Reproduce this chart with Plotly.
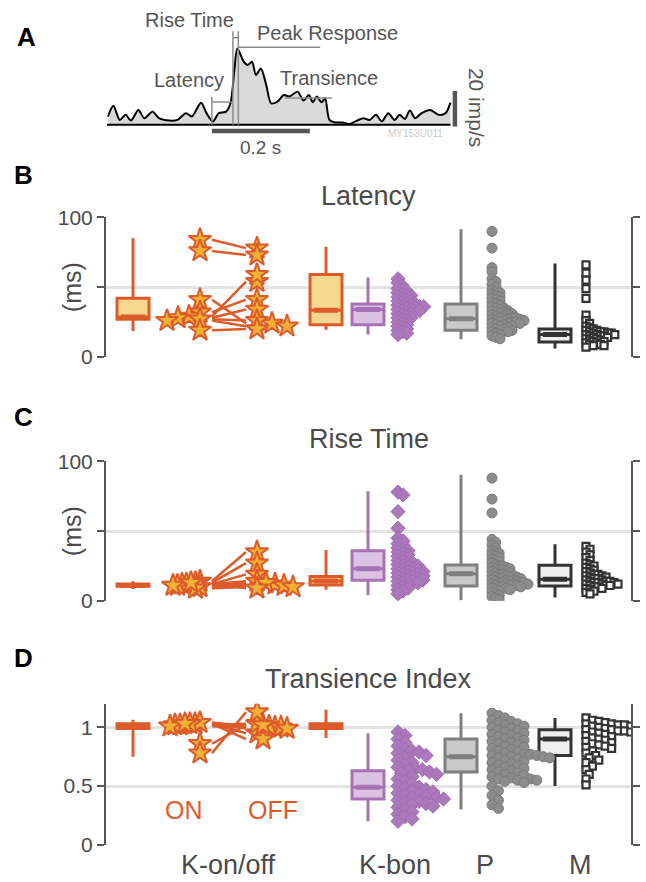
import plotly.graph_objects as go

W, H = 646, 882
# measured screen placement: screen_y = Y_OFF + Y_SCALE * figure_y (screen_x = figure_x)
Y_OFF, Y_SCALE = 8.7, 0.978
FONT = "Liberation Sans, Arial, Helvetica, sans-serif"
TXT = "#4a4a4a"

def px(x):
    return x / W

def py(y):
    return 1 - ((y - Y_OFF) / Y_SCALE) / H

# ---------------- Panel A: example PSTH ----------------
psth_t_ms = [-212, -201, -188, -176, -165, -150, -138, -121, -108, -87, -70, -53, -41, -22, -11, 2,
             14, 29, 38, 46, 52, 65, 73, 82, 90, 100, 111, 121, 134, 147, 158, 175, 187, 198, 206,
             214, 224, 231, 240, 252, 267, 280, 293, 309, 322, 335, 347, 360, 373, 383, 394, 404,
             415, 428, 446, 463, 477, 487]
psth_rate = [4.9, 11.2, 2.9, 5.9, 2.5, 8.8, 3.9, 7.8, 3.9, 2.5, 2.9, 6.9, 4.9, 13.1, 6.9, 2.0,
             6.9, 7.8, 12.7, 32.4, 45.1, 37.3, 35.3, 37.3, 29.4, 33.3, 23.5, 12.7, 13.7, 17.6, 16.7,
             19.6, 14.3, 17.6, 13.3, 16.7, 13.3, 15.7, 2.9, 1.4, 1.4, 0.4, 2.0, 3.9, 2.9, 5.9, 2.0,
             6.9, 2.9, 5.9, 3.5, 8.4, 3.9, 6.9, 8.8, 5.9, 6.9, 13.1]
latency_ms = 43
rise_end_ms = 54
peak_rate = 45.9
sustained_rate = 15.9
stim_ms = 200
scale_rate = 20

# ---------------- Box statistics (groups: K-on, K-off, K-bon, P, M) ----------------
lat_lower = [18.5, 19.5, 16, 12.6, 6]
lat_q1 = [27, 23, 23, 19, 10.7]
lat_med = [28.5, 33.5, 34, 27.4, 16]
lat_q3 = [42, 59, 38, 38, 20]
lat_upper = [85, 79, 57, 91.6, 67]

rise_lower = [8.5, 7.9, 4, 0.5, 2.4]
rise_q1 = [10.5, 11.4, 14.8, 10.7, 10.7]
rise_med = [11, 14.3, 23, 19.5, 15.5]
rise_q3 = [12, 17.4, 36, 25.7, 25.5]
rise_upper = [14, 36.4, 78.6, 90.5, 40.5]

trans_lower = [0.75, 0.91, 0.2, 0.3, 0.5]
trans_q1 = [0.99, 0.99, 0.39, 0.62, 0.76]
trans_med = [1.01, 1.01, 0.49, 0.75, 0.9]
trans_q3 = [1.03, 1.03, 0.63, 0.9, 0.98]
trans_upper = [1.065, 1.15, 0.95, 1.12, 1.08]

# ---------------- Paired K-on/off cells ----------------
lat_on = [84, 76, 41, 32, 29, 28, 27, 26, 19]
lat_off = [78, 73, 24, 41, 54, 34, 26, 22, 20]
lat_off_extra = [59]
rise_on = [14, 13, 12, 12, 11, 11, 10, 9, 13]
rise_off = [35, 27, 19, 14, 12, 13, 11, 10, 9]
trans_on = [1.03, 1.02, 1.04, 1.03, 1.02, 1.01, 0.86, 0.78, 1.03]
trans_off = [0.95, 1.0, 1.01, 0.9, 1.03, 1.0, 1.02, 1.13, 0.99]

# ---------------- Population values ----------------
lat_kbon = [56, 53, 51, 49, 48, 47, 46, 45, 44, 44, 43, 42, 41, 40, 40, 39, 38, 38, 37, 37, 36, 36,
            36, 35, 35, 34, 34, 33, 33, 32, 31, 31, 30, 29, 28, 28, 27, 26, 25, 24, 23, 22, 21, 20,
            19, 18, 17, 16]
lat_p = [90, 78, 64, 61, 56, 54, 52, 50, 48, 47, 46, 45, 44, 43, 42, 41, 40, 39, 38, 37, 36, 35, 35,
         34, 33, 33, 32, 32, 31, 31, 30, 30, 29, 29, 28, 28, 28, 27, 27, 27, 26, 26, 26, 25, 25, 25,
         24, 24, 24, 23, 23, 22, 22, 21, 21, 20, 20, 19, 19, 18, 18, 17, 16, 15, 14, 13]
lat_m = [66, 60, 55, 49, 42, 30, 26, 24, 22, 21, 20, 19, 19, 18, 18, 18, 17, 17, 17, 16, 16, 16, 15,
         15, 15, 14, 14, 13, 13, 12, 12, 11, 11, 10, 10, 9, 9, 8, 8, 7]

rise_kbon = [78, 76, 64, 52, 45, 43, 41, 40, 38, 37, 36, 35, 34, 33, 32, 31, 30, 29, 28, 27, 27, 26,
             25, 25, 24, 23, 23, 22, 22, 21, 21, 20, 20, 19, 19, 18, 18, 17, 17, 16, 16, 15, 15, 14,
             14, 13, 13, 12, 11, 10, 9, 8, 7, 5]
rise_p = [88, 73, 63, 44, 42, 40, 38, 36, 35, 34, 33, 32, 31, 30, 29, 28, 27, 26, 25, 25, 24, 24, 23,
          23, 22, 22, 21, 21, 20, 20, 19, 19, 18, 18, 18, 17, 17, 17, 16, 16, 16, 15, 15, 15, 14, 14,
          14, 13, 13, 13, 13, 12, 12, 12, 12, 11, 11, 11, 10, 10, 10, 9, 9, 8, 8, 7, 6, 5, 4, 3, 2, 1]
rise_m = [39, 37, 35, 33, 31, 29, 27, 26, 25, 24, 23, 22, 21, 20, 19, 19, 18, 18, 17, 17, 16, 16, 15,
          15, 14, 14, 14, 13, 13, 13, 12, 12, 12, 11, 11, 11, 10, 10, 9, 9, 8, 7, 6, 5]

trans_kbon = [0.96, 0.93, 0.9, 0.87, 0.84, 0.81, 0.8, 0.79, 0.78, 0.76, 0.74, 0.72, 0.7, 0.68, 0.66,
              0.65, 0.64, 0.63, 0.62, 0.61, 0.6, 0.58, 0.56, 0.54, 0.52, 0.5, 0.49, 0.48, 0.47, 0.46,
              0.45, 0.44, 0.43, 0.42, 0.41, 0.4, 0.4, 0.39, 0.38, 0.37, 0.36, 0.35, 0.34, 0.33, 0.32,
              0.3, 0.28, 0.26, 0.24, 0.22, 0.2]
trans_p = [1.12, 1.1, 1.08, 1.06, 1.05, 1.04, 1.03, 1.02, 1.01, 1.0, 0.99, 0.98, 0.97, 0.96, 0.95,
           0.94, 0.93, 0.92, 0.91, 0.9, 0.89, 0.88, 0.87, 0.86, 0.85, 0.84, 0.83, 0.82, 0.81, 0.8,
           0.79, 0.78, 0.77, 0.77, 0.76, 0.76, 0.75, 0.75, 0.74, 0.74, 0.73, 0.72, 0.71, 0.7, 0.69,
           0.68, 0.67, 0.66, 0.65, 0.64, 0.63, 0.62, 0.61, 0.6, 0.59, 0.58, 0.57, 0.56, 0.56, 0.55,
           0.55, 0.54, 0.53, 0.5, 0.46, 0.42, 0.38, 0.34, 0.31]
trans_m = [1.08, 1.06, 1.05, 1.04, 1.03, 1.03, 1.02, 1.02, 1.01, 1.01, 1.0, 1.0, 0.99, 0.99, 0.98,
           0.98, 0.97, 0.97, 0.96, 0.96, 0.95, 0.95, 0.94, 0.93, 0.92, 0.91, 0.9, 0.89, 0.88, 0.87,
           0.86, 0.85, 0.84, 0.83, 0.82, 0.8, 0.78, 0.76, 0.74, 0.72, 0.7, 0.67, 0.64, 0.6, 0.56, 0.51]

group_labels = ["K-on/off", "K-bon", "P", "M"]
panel_titles = ["Latency", "Rise Time", "Transience Index"]

# ---------------- styling / layout constants ----------------
ORANGE, ORANGE_FILL, STAR_FILL = "#dd5a2b", "#f6d78f", "#f2b134"
PURPLE, PURPLE_FILL = "#a672b5", "#dcc2e2"
GRAY, GRAY_FILL = "#7f7f7f", "#c9c9c9"
DARK, DARK_FILL = "#333333", "#efefef"
box_line = [ORANGE, ORANGE, PURPLE, GRAY, DARK]
box_fill = [ORANGE_FILL, ORANGE_FILL, PURPLE_FILL, GRAY_FILL, DARK_FILL]
box_x = [133, 326, 368, 461, 555]
BOX_W = 32

X0, X1 = 106, 631
# swarm (collision, step) per group: K-bon, P, M ; star swarms: (coll_on, step_on, coll_off, step_off)
panels = [
    dict(top=215, bot=355, rng=[0, 100], ticks=[0, 50, 100], tt=["0", "", "100"],
         sw=((4.0, 4.3), (4.0, 4.0), (3.6, 3.6)), star=(6.0, 11, 6.0, 15)),
    dict(top=460, bot=600, rng=[0, 100], ticks=[0, 50, 100], tt=["0", "", "100"],
         sw=((4.0, 5.0), (3.6, 3.6), (4.0, 4.0)), star=(4.5, 4.5, 6.0, 9)),
    dict(top=703.4, bot=845, rng=[0, 1.2], ticks=[0, 0.5, 1], tt=["0", "0.5", "1"],
         sw=((6.2, 3.5), (6.0, 3.2), (5.0, 3.2)), star=(5.0, 5.0, 6.0, 6)),
]
for i, p in enumerate(panels):
    sfx = "" if i == 0 else str(i + 1)
    p["xa"], p["ya"], p["sfx"] = "x" + sfx, "y" + sfx, sfx
    p["scale"] = (p["bot"] - p["top"]) / (p["rng"][1] - p["rng"][0])


def swarm(vals, base, direction, scale, coll, step):
    placed = []
    order = sorted(range(len(vals)), key=lambda i: -vals[i])
    out = [0] * len(vals)
    for i in order:
        yv = vals[i] * scale
        k = 0
        while any((k * step - a) ** 2 + (yv - b) ** 2 < coll ** 2 - 1e-9 for a, b in placed):
            k += 1
        placed.append((k * step, yv))
        out[i] = base + direction * k * step
    return out


fig = go.Figure()

# ---- Panel A ----
AX, AY = "x4", "y4"
fig.add_trace(go.Scatter(x=psth_t_ms, y=psth_rate, mode="lines",
                         line=dict(color="black", width=2, shape="spline", smoothing=0.8),
                         fill="tozeroy", fillcolor="#d9d9d9", xaxis=AX, yaxis=AY, hoverinfo="skip"))
fig.add_trace(go.Scatter(x=[psth_t_ms[0] - 2, psth_t_ms[-1]], y=[0, 0], mode="lines",
                         line=dict(color="black", width=2), xaxis=AX, yaxis=AY, hoverinfo="skip"))
ann_line = dict(color="#8c8c8c", width=1.5)
seg_x = [0, 0, None, 0, latency_ms, None, latency_ms, latency_ms, None, rise_end_ms, rise_end_ms, None,
         latency_ms, rise_end_ms, None, rise_end_ms, 221, None, 149, 245]
seg_y = [0, 16.5, None, 13.5, 13.5, None, 0, 55.3, None, 0, 55.3, None,
         51.5, 51.5, None, peak_rate, peak_rate, None, sustained_rate, sustained_rate]
fig.add_trace(go.Scatter(x=seg_x, y=seg_y, mode="lines", line=ann_line, xaxis=AX, yaxis=AY, hoverinfo="skip"))
fig.add_trace(go.Scatter(x=[0, stim_ms], y=[-3.6, -3.6], mode="lines", line=dict(color="#555555", width=4.5),
                         xaxis=AX, yaxis=AY, hoverinfo="skip"))
fig.add_trace(go.Scatter(x=[496, 496], y=[-1, scale_rate], mode="lines", line=dict(color="#555555", width=4.5),
                         xaxis=AX, yaxis=AY, hoverinfo="skip"))

# ---- Panels B-D ----
stats = [
    (lat_lower, lat_q1, lat_med, lat_q3, lat_upper),
    (rise_lower, rise_q1, rise_med, rise_q3, rise_upper),
    (trans_lower, trans_q1, trans_med, trans_q3, trans_upper),
]
pops = [(lat_kbon, lat_p, lat_m), (rise_kbon, rise_p, rise_m), (trans_kbon, trans_p, trans_m)]
pairs = [(lat_on, lat_off, lat_off_extra), (rise_on, rise_off, []), (trans_on, trans_off, [])]

for pi, p in enumerate(panels):
    lo, q1, md, q3, up = stats[pi]
    for g in range(5):
        fig.add_trace(go.Box(x=[box_x[g]], lowerfence=[lo[g]], q1=[q1[g]], median=[md[g]], q3=[q3[g]],
                             upperfence=[up[g]], width=BOX_W, whiskerwidth=0, fillcolor=box_fill[g],
                             line=dict(color=box_line[g], width=3), boxpoints=False,
                             xaxis=p["xa"], yaxis=p["ya"], hoverinfo="skip", showlegend=False))
        fig.add_trace(go.Scatter(x=[box_x[g] - 12, box_x[g] + 12], y=[md[g], md[g]], mode="lines",
                                 line=dict(color=box_line[g], width=5), xaxis=p["xa"], yaxis=p["ya"],
                                 hoverinfo="skip"))
    kb, pp, mm = pops[pi]
    sc = p["scale"]
    (ck, sk), (cp, sp), (cm, sm) = p["sw"]
    fig.add_trace(go.Scatter(x=swarm(kb, 398, 1, sc, ck, sk), y=kb, mode="markers",
                             marker=dict(symbol="diamond", size=11, color="#ab78bb",
                                         line=dict(color="#a06cb2", width=1)),
                             xaxis=p["xa"], yaxis=p["ya"], hoverinfo="skip"))
    fig.add_trace(go.Scatter(x=swarm(pp, 492, 1, sc, cp, sp), y=pp, mode="markers",
                             marker=dict(symbol="circle", size=10, color="#8c8c8c",
                                         line=dict(color="#7a7a7a", width=1)),
                             xaxis=p["xa"], yaxis=p["ya"], hoverinfo="skip"))
    fig.add_trace(go.Scatter(x=swarm(mm, 586, 1, sc, cm, sm), y=mm, mode="markers",
                             marker=dict(symbol="square", size=7, color="white", line=dict(color=DARK, width=2.2)),
                             xaxis=p["xa"], yaxis=p["ya"], hoverinfo="skip"))
    on, off, extra = pairs[pi]
    lx, ly = [], []
    for a, b in zip(on, off):
        lx += [212, 246, None]
        ly += [a, b, None]
    fig.add_trace(go.Scatter(x=lx, y=ly, mode="lines", line=dict(color=ORANGE, width=2.5),
                             xaxis=p["xa"], yaxis=p["ya"], hoverinfo="skip"))
    offs = off + extra
    c_on, s_on, c_off, s_off = p["star"]
    star = dict(symbol="star", size=17, color=STAR_FILL, line=dict(color=ORANGE, width=2))
    fig.add_trace(go.Scatter(x=swarm(on, 200, -1, sc, c_on, s_on), y=on, mode="markers", marker=star,
                             xaxis=p["xa"], yaxis=p["ya"], hoverinfo="skip"))
    fig.add_trace(go.Scatter(x=swarm(offs, 257, 1, sc, c_off, s_off), y=offs, mode="markers", marker=star,
                             xaxis=p["xa"], yaxis=p["ya"], hoverinfo="skip"))

layout = dict(width=W, height=H, margin=dict(l=0, r=0, t=0, b=0), paper_bgcolor="white", plot_bgcolor="white",
              showlegend=False, font=dict(family=FONT, color=TXT))
for p in panels:
    sfx = p["sfx"]
    layout["xaxis" + sfx] = dict(domain=[px(X0), px(X1)], range=[X0, X1], showgrid=False, zeroline=False,
                                 showticklabels=False, showline=False, ticks="", anchor="y" + sfx)
    layout["yaxis" + sfx] = dict(domain=[py(p["bot"]), py(p["top"])], range=p["rng"], tickvals=p["ticks"],
                                 ticktext=p["tt"], showgrid=True, gridcolor="#e3e3e3", gridwidth=2.5,
                                 zeroline=False, showline=True, linecolor="#555555", linewidth=2,
                                 ticks="outside", ticklen=7, tickwidth=2, tickcolor="#555555", mirror="ticks",
                                 tickfont=dict(size=21, color=TXT), anchor="x" + sfx)
A_T0, A_T1 = -214, 540
A_R0, A_R1 = -15, 66
layout["xaxis4"] = dict(domain=[px(107), px(107 + (A_T1 - A_T0) * 0.49)], range=[A_T0, A_T1],
                        visible=False, anchor="y4")
layout["yaxis4"] = dict(domain=[py(122 - A_R0 * 1.7), py(122 - A_R1 * 1.7)], range=[A_R0, A_R1],
                        visible=False, anchor="x4")

ann = []
def A(text, x, y, size, color=TXT, xref="paper", yref="paper", angle=0, bold=False):
    ann.append(dict(text=("<b>%s</b>" % text) if bold else text, x=x, y=y, xref=xref, yref=yref,
                    showarrow=False, font=dict(size=size, color=color, family=FONT), textangle=angle,
                    xanchor="center", yanchor="middle"))

for letter, xx, yy in zip("ABCD", [27, 23, 23, 23], [34, 172, 415, 657]):
    A(letter, px(xx), py(yy), 26, color="black", bold=True)
A("Rise Time", -45, 61.8, 20, color="#555555", xref=AX, yref=AY)
A("Peak Response", 235, 54, 20, color="#555555", xref=AX, yref=AY)
A("Latency", -47, 26.5, 20, color="#555555", xref=AX, yref=AY)
A("Transience", 239, 27.6, 20, color="#555555", xref=AX, yref=AY)
A("0.2 s", 100, -13.5, 19, color="#555555", xref=AX, yref=AY)
A("20 imp/s", 539, 10, 21, color="#555555", xref=AX, yref=AY, angle=90)
A("MY153U011", 415, -5, 10, color="#cccccc", xref=AX, yref=AY)
for t, yy in zip(panel_titles, [193, 437, 678]):
    A(t, px((X0 + X1) / 2), py(yy), 27)
A("(ms)", px(72), py(285), 25, angle=-90)
A("(ms)", px(72), py(530), 25, angle=-90)
for t, xx in zip(group_labels, [228, 395, 485, 580]):
    A(t, px(xx), py(865), 27)
A("ON", px(184), py(810), 25, color=ORANGE)
A("OFF", px(273), py(810), 25, color=ORANGE)
layout["annotations"] = ann

fig.update_layout(**layout)
fig.update_traces(showlegend=False)
fig.write_html("out.html")
